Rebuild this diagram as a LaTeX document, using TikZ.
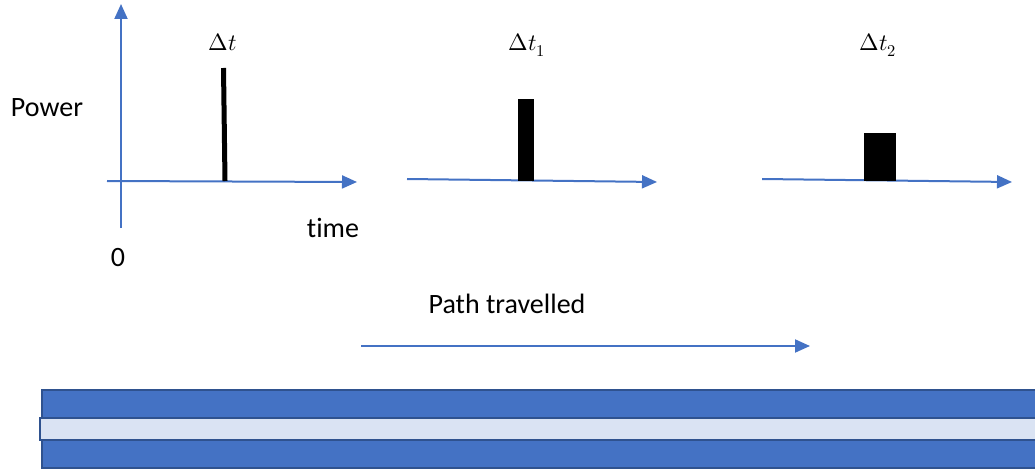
\documentclass[tikz,border=0pt]{standalone}
\usepackage{fontspec}
\usepackage{unicode-math}
\setmainfont{Carlito}[Ligatures=NoCommon]
\setmathfont{Latin Modern Math}
\usetikzlibrary{arrows.meta}
\definecolor{axisblue}{HTML}{4472C4}
\definecolor{coreblue}{HTML}{DAE3F3}
\definecolor{edgeblue}{HTML}{2F528F}
\begin{document}
\begin{tikzpicture}[x=1pt,y=-1pt,
    axis/.style={draw=axisblue,line width=2pt,-{Triangle[length=15pt,width=13pt]}},
    txt/.style={font=\fontsize{28}{32}\selectfont,inner sep=0pt},
    mlbl/.style={font=\fontsize{23.5}{28}\selectfont,inner sep=0pt},
    band/.style={fill=axisblue,draw=edgeblue,line width=2pt}]
    \useasboundingbox (0,0) rectangle (1035,473);
    % power axis and the three time axes
    \coordinate (ybot) at (121,228);
    \coordinate (ytop) at (121,4);
    \draw[axis] (ybot) -- (ytop);
    \foreach \n/\xa/\ya/\xb/\yb in {1/107/181/357/182, 2/407/179/657/182, 3/762/179/1012/182} {
      \coordinate (t\n a) at (\xa,\ya);
      \coordinate (t\n b) at (\xb,\yb);
      \draw[axis] (t\n a) -- (t\n b);
    }
    % the pulse getting wider along the path
    \coordinate (p1top) at (223.5,68);
    \coordinate (p1bot) at (225,181);
    \draw[line width=5pt] (p1top) -- (p1bot);
    \fill (518,99) rectangle (534,181);
    \fill (864,133) rectangle (896,181);
    \node[mlbl] (dt) at (223,42) {$\Delta t$};
    \node[mlbl] (dt1) at (527,45) {$\Delta t_1$};
    \node[mlbl] (dt2) at (878,45) {$\Delta t_2$};
    \node[txt] (power) at (47,108) {Power};
    \node[txt] (time) at (333,228) {time};
    \node[txt] (zero) at (118,258) {0};
    % direction of travel
    \node[txt] (path) at (507,304) {Path travelled};
    \coordinate (pa) at (361,346);
    \coordinate (pb) at (810,346);
    \draw[axis] (pa) -- (pb);
    % fibre: cladding, core, cladding
    \draw[band] (42,390) rectangle (1045,418);
    \draw[band,fill=coreblue] (40,418) rectangle (1045,440);
    \draw[band] (42,440) rectangle (1045,468);
\end{tikzpicture}
\end{document}
